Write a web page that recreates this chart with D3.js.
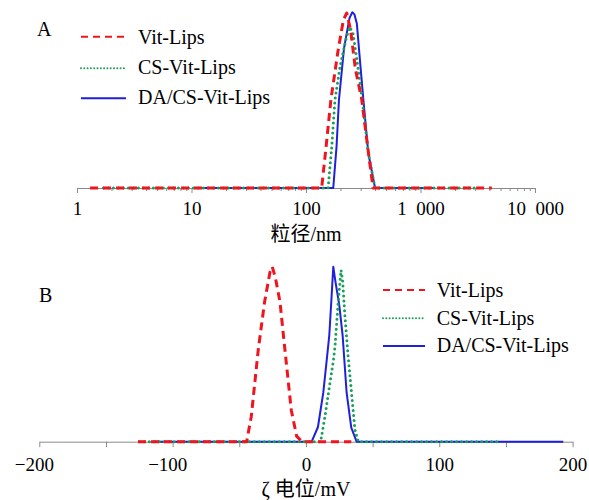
<!DOCTYPE html>
<html>
<head>
<meta charset="utf-8">
<script src="https://cdn.jsdelivr.net/npm/d3@7"></script>
<style>
  body { margin: 0; background: #fff; }
  svg text { font-family: "Liberation Serif", "Times New Roman", "Noto Sans CJK SC", serif; fill: #000; }
</style>
</head>
<body>
<script>
// panel A: particle size distribution (nm, intensity %)
var sizeVit = [1.3, 137, 150, 165, 190, 212, 227, 245, 270, 307, 345, 385, 4200]
var intVit = [0, 0, 6, 12.6, 19.5, 24, 25, 22.6, 17, 12.6, 6, 0, 0]
var sizeCS = [1.7, 156, 168, 179, 198, 225, 242, 258, 280, 310, 350, 401, 3100]
var intCS = [0, 0, 6, 12.6, 17.3, 21.5, 23, 22, 18, 12.6, 5, 0, 0]
var sizeDA = [12, 173, 185, 194, 215, 240, 254, 265, 278, 295, 317, 350, 401, 1300]
var intDA = [0, 0, 6, 12.6, 20, 24.3, 25.1, 24.8, 23.5, 18.5, 12.6, 5, 0, 0]

// panel B: zeta potential distribution (mV)
var zetaVit = [-126, -44.5, -41, -35.8, -31, -27, -25.3, -23, -19.5, -15.75, -11, -7, -3, 34]
var zintVit = [0, 0, 3.6, 13.1, 20, 24.2, 25, 23.5, 20, 13.1, 4.5, 0.8, 0, 0]
var zetaCS = [-125, 11, 14.25, 18, 20.5, 21.75, 24, 26.3, 27.5, 29.25, 31.5, 33.5, 36.75, 39.3, 144]
var zintCS = [0, 0, 3.6, 8.4, 11.5, 13.5, 19.5, 24.5, 23, 17.9, 12.5, 8.4, 1.7, 0, 0]
var zetaDA = [-115, 4.3, 9, 13, 15.5, 17.5, 19, 20.5, 22, 25, 27.5, 30.5, 34, 38, 193]
var zintDA = [0, 0, 2.1, 7, 11.5, 15.2, 20, 25, 23, 19.5, 15.2, 7, 2, 0, 0]

var seriesNames = ['Vit-Lips', 'CS-Vit-Lips', 'DA/CS-Vit-Lips']
var sizeTicks = [1, 10, 100, 1000, 10000]
var zetaTicks = [-200, -150, -100, -50, 0, 50, 100, 150, 200]
var zetaLabels = [-200, -100, 0, 100, 200]

var styles = [
  { color: '#f0141e', width: 3, dash: '8,5', cap: 'butt', lw: 2, ldash: '7,5' },
  { color: '#17a05a', width: 3, dash: '0,5', cap: 'round', lw: 2, ldash: '0,3.3' },
  { color: '#1f1fdc', width: 2, dash: null, cap: 'butt', lw: 2, ldash: null }
]

var svg = d3.select('body').append('svg')
  .attr('width', 589)
  .attr('height', 500)

var xA = d3.scaleLog().domain([1, 10000]).range([77, 535])
var yA = d3.scaleLinear().domain([0, 25]).range([188, 13])
var xB = d3.scaleLinear().domain([-200, 200]).range([39.3, 572.6])
var yB = d3.scaleLinear().domain([0, 25]).range([441.7, 266.7])

function styleAxis (g) {
  g.select('.domain').attr('stroke', '#8a8a8a').attr('stroke-width', 1)
  g.selectAll('.tick line').attr('stroke', '#8a8a8a')
  g.selectAll('.tick text').style('font-size', '19px').attr('fill', '#000')
}

// axis A
var minorA = []
for (var p = 0; p < 4; p++) {
  for (var m = 2; m < 10; m++) minorA.push(m * Math.pow(10, p))
}
svg.append('g')
  .attr('transform', 'translate(0,188)')
  .call(d3.axisBottom(xA).tickValues(minorA).tickSize(3).tickSizeOuter(0).tickFormat(''))
  .call(styleAxis)
svg.append('g')
  .attr('transform', 'translate(0,188)')
  .call(d3.axisBottom(xA).tickValues(sizeTicks).tickSize(5).tickSizeOuter(0).tickPadding(8.5)
    .tickFormat(function (d) { return d >= 1000 ? d3.format(',')(d).replace(',', '\u2002') : d }))
  .call(styleAxis)

// axis B
var axB = svg.append('g')
  .attr('transform', 'translate(0,441.7)')
  .call(d3.axisBottom(xB).tickValues(zetaTicks).tickSize(5.5).tickSizeOuter(0).tickPadding(10.8)
    .tickFormat(function (d) {
      if (zetaLabels.indexOf(d) < 0) return ''
      return d < 0 ? '\u2212' + Math.abs(d) : d
    }))
  .call(styleAxis)
axB.selectAll('.tick text').attr('dx', function (d) { return d < 0 ? -5.4 : 0 })

function drawSeries (xs, ys, xScale, yScale, st) {
  var pts = xs.map(function (v, i) { return [v, ys[i]] })
  var line = d3.line()
    .x(function (d) { return xScale(d[0]) })
    .y(function (d) { return yScale(d[1]) })
  svg.append('path')
    .datum(pts)
    .attr('d', line)
    .attr('fill', 'none')
    .attr('stroke', st.color)
    .attr('stroke-width', st.width)
    .attr('stroke-dasharray', st.dash)
    .attr('stroke-linecap', st.cap)
    .attr('stroke-linejoin', 'round')
}

// draw blue first, red on top
drawSeries(sizeDA, intDA, xA, yA, styles[2])
drawSeries(sizeCS, intCS, xA, yA, styles[1])
drawSeries(sizeVit, intVit, xA, yA, styles[0])
drawSeries(zetaDA, zintDA, xB, yB, styles[2])
drawSeries(zetaCS, zintCS, xB, yB, styles[1])
drawSeries(zetaVit, zintVit, xB, yB, styles[0])

function legend (x0, x1, tx, lineYs, textYs) {
  seriesNames.forEach(function (name, i) {
    var st = styles[i]
    svg.append('line')
      .attr('x1', x0).attr('x2', x1)
      .attr('y1', lineYs[i]).attr('y2', lineYs[i])
      .attr('stroke', st.color)
      .attr('stroke-width', st.lw)
      .attr('stroke-dasharray', st.ldash)
      .attr('stroke-linecap', st.cap)
    svg.append('text')
      .attr('x', tx).attr('y', textYs[i])
      .style('font-size', '20px')
      .text(name)
  })
}
legend(81, 126, 138, [36.7, 68.3, 98.3], [43.5, 73.5, 103.5])
legend(383, 425, 436.7, [290, 318.3, 346], [297, 325, 352])

// panel letters
svg.append('text').attr('x', 37).attr('y', 36).style('font-size', '20px').text('A')
svg.append('text').attr('x', 39).attr('y', 302).style('font-size', '20px').text('B')

// axis titles
svg.append('text').attr('x', 306).attr('y', 241).attr('text-anchor', 'middle')
  .style('font-size', '20px').text('粒径/nm')
svg.append('text').attr('x', 306).attr('y', 496).attr('text-anchor', 'middle')
  .style('font-size', '20px').text('ζ 电位/mV')
</script>
</body>
</html>
